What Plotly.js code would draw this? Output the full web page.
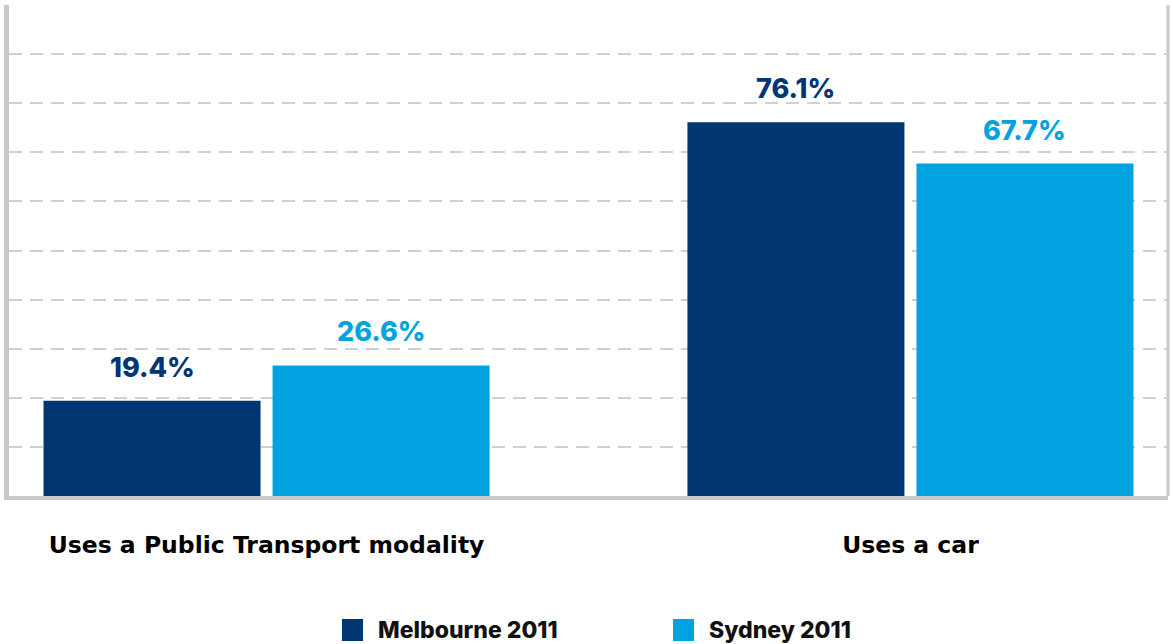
<!DOCTYPE html>
<html><head><meta charset="utf-8">
<script src="https://cdn.plot.ly/plotly-3.0.1.min.js"></script>
<style>html,body{margin:0;padding:0;background:#fff;overflow:hidden}#chart{width:1173px;height:644px}</style>
</head><body><div id="chart"></div>
<script>
const categories = ["Uses a Public Transport modality", "Uses a car"];
const melbourne = [19.4, 76.1];
const sydney = [26.6, 67.7];
const seriesNames = ["Melbourne 2011", "Sydney 2011"];
const seriesValues = [melbourne, sydney];
const seriesColors = ["#003671", "#00a3e0"];
const yTickVals = [0, 10, 20, 30, 40, 50, 60, 70, 80, 90, 100];

const FONT = "Inter, 'Open Sans', sans-serif";
const TICKFONT = "'DejaVu Sans', Inter, sans-serif";
const W = 1173, H = 644, ML = 9, MR = 5, MT = 5, MB = 148;
const plotW = W - ML - MR, plotH = H - MT - MB;
const px2x = p => (p - ML) / plotW;
const px2y = p => (H - MB - p) / plotH;

const traces = seriesNames.map((name, i) => ({
  type: 'bar', name: name, x: categories, y: seriesValues[i],
  marker: {color: seriesColors[i]}, showlegend: false, hoverinfo: 'skip'
}));

const annotations = [];
const halfSlot = 114.5;
seriesNames.forEach((name, i) => {
  seriesValues[i].forEach((v, j) => {
    annotations.push({
      x: categories[j], y: v, xref: 'x', yref: 'y',
      text: v.toFixed(1) + '%', showarrow: false,
      xshift: (i === 0 ? -halfSlot : halfSlot), yshift: 15,
      yanchor: 'bottom', xanchor: 'center',
      font: {family: FONT, size: 27, weight: 800, color: seriesColors[i]}
    });
  });
});

// custom legend
const legendSquares = [[342, 363], [673, 694]];
const shapes = [
  {type: 'line', xref: 'paper', yref: 'paper', x0: 1, x1: 1, y0: 0, y1: 1,
   line: {color: '#c8c8c8', width: 3}}
];
seriesNames.forEach((name, i) => {
  const [a, b] = legendSquares[i];
  shapes.push({type: 'rect', xref: 'paper', yref: 'paper',
    x0: px2x(a), x1: px2x(b), y0: px2y(641), y1: px2y(619),
    fillcolor: seriesColors[i], line: {width: 0}});
  annotations.push({
    xref: 'paper', yref: 'paper', x: px2x(b + 13), y: px2y(630),
    xanchor: 'left', yanchor: 'middle', showarrow: false, text: name,
    font: {family: FONT, size: 23, weight: 800, color: '#111'}
  });
});

const layout = {
  width: W, height: H,
  margin: {l: ML, r: MR, t: MT, b: MB, pad: 0},
  paper_bgcolor: '#fff', plot_bgcolor: '#fff',
  barmode: 'group', bargap: 0.2886, bargroupgap: 0.0524,
  showlegend: false,
  xaxis: {
    type: 'category', range: [-0.4, 1.4], showgrid: false, zeroline: false,
    showline: true, linecolor: '#c8c8c8', linewidth: 4, ticks: '',
    ticklabelstandoff: 25,
    tickfont: {family: TICKFONT, size: 23.5, weight: 'bold', color: '#000'}
  },
  yaxis: {
    range: [0, 100], tickvals: yTickVals, showticklabels: false,
    showgrid: true, gridcolor: '#d0d0d0', gridwidth: 2, griddash: '13px,8px',
    zeroline: false, showline: true, linecolor: '#c8c8c8', linewidth: 5, ticks: ''
  },
  shapes: shapes,
  annotations: annotations
};

Plotly.newPlot('chart', traces, layout, {staticPlot: true, displayModeBar: false});
</script>
</body></html>
